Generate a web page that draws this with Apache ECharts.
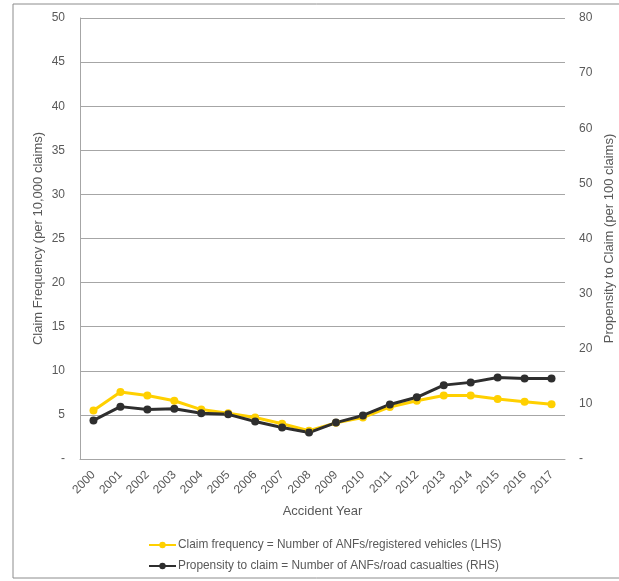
<!DOCTYPE html>
<html><head><meta charset="utf-8">
<script src="https://cdn.jsdelivr.net/npm/echarts@6/dist/echarts.min.js"></script>
<style>html,body{margin:0;padding:0;background:#fff}#c{width:619px;height:581px}</style>
</head><body><div id="c"></div>
<script>
const years = ['2000','2001','2002','2003','2004','2005','2006','2007','2008','2009','2010','2011','2012','2013','2014','2015','2016','2017'];
const claimFrequency = [5.5,7.6,7.2,6.6,5.6,5.2,4.7,4.0,3.2,4.1,4.7,5.9,6.6,7.2,7.2,6.8,6.5,6.2];
const propensity = [7.0,9.5,9.0,9.1,8.3,8.1,6.8,5.7,4.8,6.6,7.9,9.9,11.2,13.4,13.9,14.8,14.6,14.6];
const leftTicks = {min:0,max:50,interval:5};
const rightTicks = {min:0,max:80,interval:10};

const txt = '#595959';
const font = 'Liberation Sans, Arial, sans-serif';
const chart = echarts.init(document.getElementById('c'));
chart.setOption({
  animation:false,
  textStyle:{fontFamily:font},
  graphic:[{type:'rect',shape:{x:13,y:4,width:620,height:574},style:{fill:'none',stroke:'#8c8c8c',lineWidth:1}}],
  grid:{left:80,right:54,top:18,bottom:122,containLabel:false,outerBoundsMode:'none'},
  legend:{
    orient:'vertical',left:143,top:534,itemGap:9,itemWidth:27,itemHeight:8,
    textStyle:{color:txt,fontSize:11.85,fontFamily:font,padding:[0,0,0,-3]},
    data:['Claim frequency = Number of ANFs/registered vehicles (LHS)','Propensity to claim = Number of ANFs/road casualties (RHS)']
  },
  xAxis:{
    type:'category',data:years,boundaryGap:true,
    name:'Accident Year',nameLocation:'middle',nameGap:46,nameMoveOverlap:false,
    nameTextStyle:{color:txt,fontSize:13,fontFamily:font},
    axisLine:{lineStyle:{color:'#a6a6a6'}},axisTick:{show:false},
    axisLabel:{rotate:45,color:txt,fontSize:12,margin:14,interval:0}
  },
  yAxis:[{
    type:'value',min:leftTicks.min,max:leftTicks.max,interval:leftTicks.interval,
    name:'Claim Frequency (per 10,000 claims)',nameLocation:'middle',nameGap:35,nameMoveOverlap:false,
    nameTextStyle:{color:txt,fontSize:13,fontFamily:font},
    axisLine:{show:true,lineStyle:{color:'#a6a6a6'}},axisTick:{show:false},
    axisLabel:{color:txt,fontSize:12,margin:15,formatter:v=>v===0?'-':String(v)},
    splitLine:{lineStyle:{color:'#a6a6a6',width:1}}
  },{
    type:'value',min:rightTicks.min,max:rightTicks.max,interval:rightTicks.interval,position:'right',
    name:'Propensity to Claim (per 100 claims)',nameLocation:'middle',nameGap:38,nameRotate:90,nameMoveOverlap:false,
    nameTextStyle:{color:txt,fontSize:13,fontFamily:font},
    axisLine:{show:false},axisTick:{show:false},
    axisLabel:{color:txt,fontSize:12,margin:14,formatter:v=>v===0?'-':String(v)},
    splitLine:{show:false}
  }],
  series:[{
    name:'Claim frequency = Number of ANFs/registered vehicles (LHS)',type:'line',yAxisIndex:0,
    data:claimFrequency,symbol:'circle',symbolSize:8,
    lineStyle:{color:'#ffd000',width:3},itemStyle:{color:'#ffd000'}
  },{
    name:'Propensity to claim = Number of ANFs/road casualties (RHS)',type:'line',yAxisIndex:1,
    data:propensity,symbol:'circle',symbolSize:8,
    lineStyle:{color:'#2e2e2e',width:3},itemStyle:{color:'#2e2e2e'}
  }]
});
</script></body></html>
